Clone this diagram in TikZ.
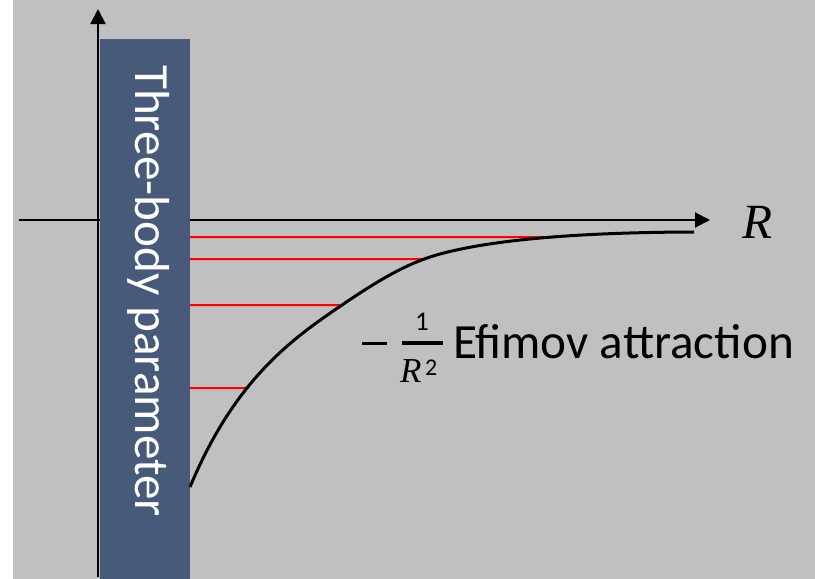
\documentclass[tikz,border=0pt]{standalone}
\usepackage{fontspec}
\setmainfont{Carlito}
\newfontfamily\serifit{Liberation Serif}
\usetikzlibrary{arrows.meta,intersections}
\definecolor{bggray}{HTML}{C0C0C0}
\definecolor{slate}{HTML}{485A7A}
\tikzset{
  axis/.style={line width=2pt, -{Triangle[length=15pt,width=15pt]}},
  level/.style={red, line width=2pt},
  pot/.style={black, line width=3pt},
  big/.style={font=\fontsize{49.2}{58}\selectfont},
  plain/.style={inner sep=0pt, outer sep=0pt}
}
\begin{document}
\begin{tikzpicture}[x=1pt,y=-1pt]
\useasboundingbox (0,0) rectangle (815,579);
\fill[white] (0,0) rectangle (13,579);
\fill[bggray] (13,0) rectangle (815,579);
% axes
\coordinate (vb) at (98,577);
\coordinate (vt) at (98,9);
\coordinate (hl) at (19,220);
\coordinate (hr) at (710,220);
\draw[axis] (vb) -- (vt);
\draw[axis] (hl) -- (hr);
% bar
\node[fill=slate, minimum width=90pt, minimum height=540pt, plain, anchor=north west] (bar) at (100,39) {};
\node[big, text=white, rotate=-90, anchor=base, plain] (tbp) at (135,291) {Three-body parameter};
% potential curve
\coordinate (c0) at (190,487);
\coordinate (cm) at (342,305);
\coordinate (cn) at (440,254);
\coordinate (c3) at (694,232);
\path[name path=curve] (c0) .. controls (235,379) and (292,339) .. (cm)
  .. controls (377,281.2) and (407,262.9) .. (cn)
  .. controls (500,237.8) and (594,232.3) .. (c3);
% levels
\foreach \yy/\nm in {237/a, 259/b, 305/c, 388/d}{
  \path[name path=hl\nm] (190,\yy) -- (700,\yy);
  \path[name intersections={of=curve and hl\nm, by={e\nm}}];
  \coordinate (s\nm) at (190,\yy);
  \draw[level] (s\nm) -- ([xshift=2pt]e\nm);
}
\draw[pot] (c0) .. controls (235,379) and (292,339) .. (cm)
  .. controls (377,281.2) and (407,262.9) .. (cn)
  .. controls (500,237.8) and (594,232.3) .. (c3);
% labels
\node[big, anchor=base, plain] (R) at (758,238) {\serifit\itshape R};
\node[plain, anchor=base, font=\fontsize{27}{27}\selectfont] (num) at (422,330) {1};
\node[plain, anchor=base west, font=\fontsize{35}{35}\selectfont\serifit\itshape] (den) at (400,382) {R};
\node[plain, anchor=base west, font=\fontsize{24}{24}\selectfont] (sq) at (425,375) {2};
\node[big, anchor=base west, plain] (lab) at (453,358) {Efimov attraction};
\node[plain, anchor=south] (minus) at (374.5,344.5) {\rule{25pt}{3pt}};
\node[plain, anchor=south] (fbar) at (422.5,344.8) {\rule{41pt}{3.6pt}};
\fill[black] (402,341.2) rectangle (443,344.8);
\end{tikzpicture}
\end{document}
